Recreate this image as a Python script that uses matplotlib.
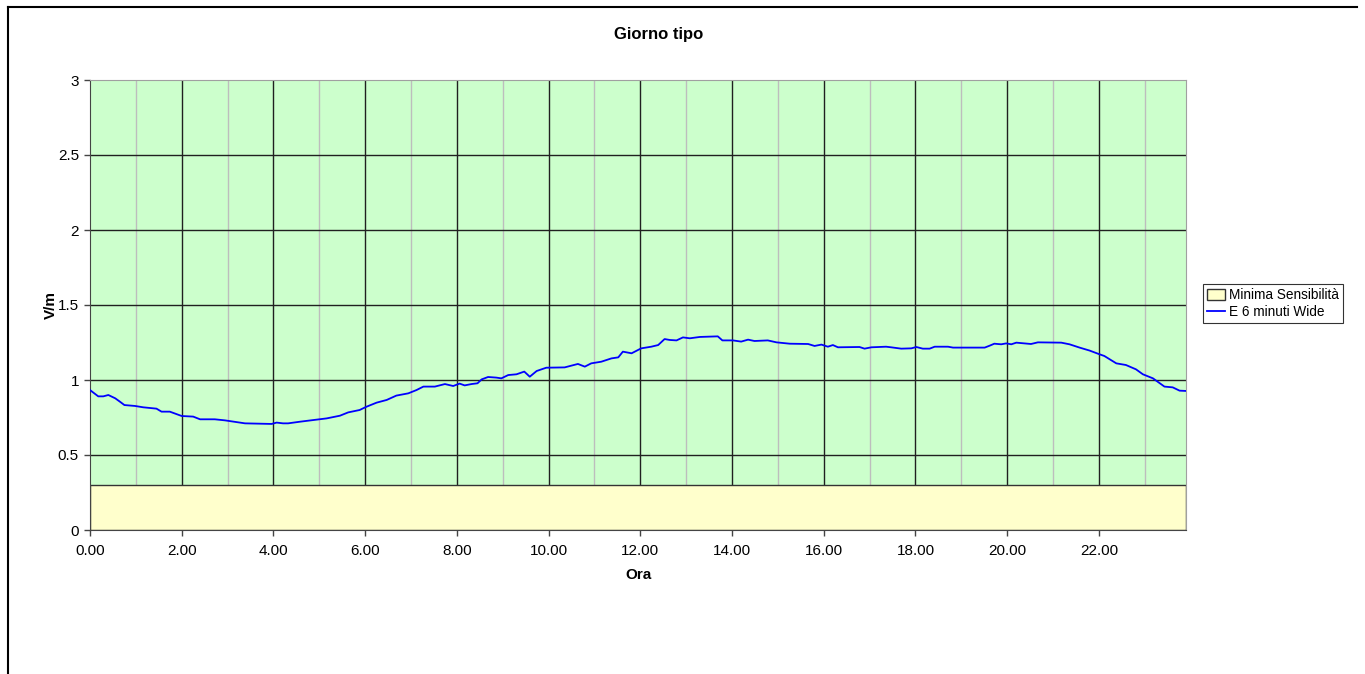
import matplotlib
matplotlib.use("Agg")
import matplotlib.pyplot as plt
import matplotlib.patches as mpatches
from matplotlib.lines import Line2D

# valori (ora, V/m)
ore = [0.00, 0.18, 0.29, 0.40, 0.55, 0.65, 0.75, 0.98, 1.16, 1.45, 1.56, 1.74,
       2.00, 2.25, 2.40, 2.72, 2.94, 3.38, 3.96, 4.07, 4.21, 4.32, 4.58, 4.87,
       5.16, 5.45, 5.63, 5.88, 6.03, 6.25, 6.47, 6.68, 6.94, 7.12, 7.27, 7.52,
       7.74, 7.92, 8.06, 8.17, 8.32, 8.45, 8.54, 8.68, 8.86, 8.97, 9.12, 9.30,
       9.47, 9.59, 9.74, 9.95, 10.35, 10.64, 10.79, 10.93, 11.15, 11.37, 11.52,
       11.62, 11.81, 12.02, 12.24, 12.39, 12.53, 12.64, 12.79, 12.93, 13.08,
       13.30, 13.69, 13.79, 14.02, 14.20, 14.35, 14.49, 14.78, 14.97, 15.26,
       15.66, 15.80, 15.95, 16.09, 16.20, 16.31, 16.78, 16.89, 17.04, 17.36,
       17.47, 17.69, 17.91, 18.02, 18.16, 18.31, 18.42, 18.71, 18.82, 19.51,
       19.62, 19.72, 19.87, 19.98, 20.09, 20.20, 20.52, 20.67, 21.18, 21.36,
       21.58, 21.80, 22.00, 22.12, 22.38, 22.59, 22.81, 22.96, 23.18, 23.43,
       23.61, 23.76, 23.90]
campo = [0.933, 0.891, 0.891, 0.900, 0.878, 0.856, 0.833, 0.827, 0.818, 0.809,
         0.789, 0.789, 0.760, 0.756, 0.738, 0.738, 0.731, 0.711, 0.707, 0.716,
         0.711, 0.711, 0.722, 0.733, 0.744, 0.762, 0.784, 0.800, 0.822, 0.849,
         0.867, 0.896, 0.911, 0.933, 0.956, 0.956, 0.973, 0.960, 0.976, 0.964,
         0.973, 0.978, 1.004, 1.020, 1.016, 1.011, 1.033, 1.038, 1.056, 1.022,
         1.060, 1.082, 1.084, 1.107, 1.089, 1.111, 1.122, 1.144, 1.151, 1.189,
         1.178, 1.211, 1.222, 1.233, 1.273, 1.267, 1.264, 1.284, 1.278, 1.287,
         1.291, 1.264, 1.264, 1.256, 1.269, 1.260, 1.264, 1.251, 1.242, 1.240,
         1.227, 1.236, 1.222, 1.233, 1.218, 1.220, 1.209, 1.218, 1.222, 1.218,
         1.209, 1.211, 1.220, 1.209, 1.209, 1.222, 1.222, 1.216, 1.216, 1.229,
         1.242, 1.238, 1.244, 1.238, 1.249, 1.240, 1.251, 1.249, 1.238, 1.216,
         1.196, 1.173, 1.160, 1.111, 1.100, 1.071, 1.038, 1.011, 0.956, 0.951,
         0.929, 0.927]
soglia = 0.3
ora_fine = 23.9
xticks = [0, 2, 4, 6, 8, 10, 12, 14, 16, 18, 20, 22]
yticks = [0, 0.5, 1, 1.5, 2, 2.5, 3]
ytick_lab = ["0", "0.5", "1", "1.5", "2", "2.5", "3"]

plt.rcParams["font.family"] = ["Liberation Sans", "DejaVu Sans"]

fig = plt.figure(figsize=(13.65, 6.74), dpi=100)
ax = fig.add_axes([90/1365, 1-530/674, (1186-90)/1365, (530-80)/674])
ax.set_facecolor("#CCFFCC")

# griglia
for h in range(1, 24):
    col = "#202020" if h % 2 == 0 else "#BDBDBD"
    ax.axvline(h, color=col, lw=1.0, zorder=1)
for y in yticks[1:-1]:
    ax.axhline(y, color="#202020", lw=1.0, zorder=1)

ax.fill_between([0, ora_fine], [soglia, soglia], color="#FFFFCC",
                edgecolor="#333333", lw=1.0, zorder=2)
ax.plot(ore, campo, color="#0000FF", lw=1.3, zorder=3)

ax.set_xlim(0, ora_fine)
ax.set_ylim(0, 3)
ax.set_xticks(xticks)
ax.set_xticklabels([f"{x:.2f}" for x in xticks], fontsize=11)
ax.set_yticks(yticks)
ax.set_yticklabels(ytick_lab, fontsize=11)
ax.tick_params(direction="out", length=4, width=1, color="#444444")
ax.tick_params(axis="x", pad=6)
ax.tick_params(axis="y", pad=4)
for s in ["top", "right"]:
    ax.spines[s].set_color("#A0A0A0")
for s in ["left", "bottom"]:
    ax.spines[s].set_color("#444444")
ax.set_xlabel("Ora", fontsize=11, fontweight="bold", labelpad=7)
ax.set_ylabel("V/m", fontsize=11, fontweight="bold", labelpad=0)
fig.text(659/1365, 1-35/674, "Giorno tipo", fontsize=12, fontweight="bold",
         ha="center", va="center")

hand = [mpatches.Patch(facecolor="#FFFFCC", edgecolor="#333333",
                       label="Minima Sensibilità"),
        Line2D([0], [0], color="#0000FF", lw=1.3, label="E 6 minuti Wide")]
leg = fig.legend(handles=hand, loc="upper left",
                 bbox_to_anchor=(1203/1365, 1-284/674), fontsize=9.8,
                 frameon=True, fancybox=False, edgecolor="#000000",
                 handlelength=1.3, handleheight=0.8, handletextpad=0.3,
                 borderpad=0.3, labelspacing=0.2, borderaxespad=0)
leg.get_frame().set_linewidth(0.8)

# cornice esterna del grafico
fig.add_artist(Line2D([8/1365, 8/1365], [0, 1-7/674], color="black", lw=1.5))
fig.add_artist(Line2D([8/1365, 1357/1365], [1-7/674, 1-7/674],
                      color="black", lw=1.5))

fig.savefig("out.png", dpi=100)
